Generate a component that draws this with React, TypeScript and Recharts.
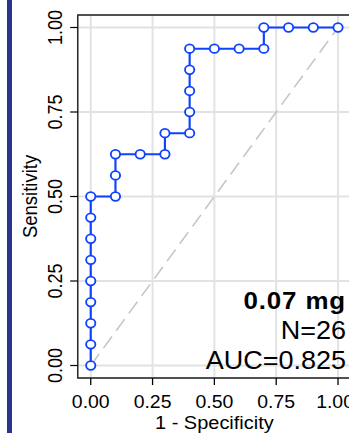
import React from 'react';
import {
  LineChart, Line, XAxis, YAxis, CartesianGrid, ReferenceLine, ReferenceArea, ReferenceDot
} from 'recharts';

// ROC curve points: false positive rate and true positive rate
const fpr = [0, 0, 0, 0, 0, 0, 0, 0, 0, 0.1, 0.1, 0.1, 0.2, 0.3, 0.3, 0.4, 0.4, 0.4, 0.4, 0.4, 0.5, 0.6, 0.7, 0.7, 0.8, 0.9, 1.0];
const tpr = [0, 0.0625, 0.125, 0.1875, 0.25, 0.3125, 0.375, 0.4375, 0.5, 0.5, 0.5625, 0.625, 0.625, 0.625, 0.6875, 0.6875, 0.75, 0.8125, 0.875, 0.9375, 0.9375, 0.9375, 0.9375, 1, 1, 1, 1];

const axisTicks = [0, 0.25, 0.5, 0.75, 1];
const xDomain: [number, number] = [-0.0525, 1.0525];
const yDomain: [number, number] = [-0.037, 1.037];

const doseLabel = '0.07 mg';
const sampleSize = 26;
const aucValue = 0.825;

const rows = fpr.map((x, i) => ({ fpr: x, tpr: tpr[i] }));

const FONT = '"Liberation Sans", Arial, Helvetica, sans-serif';
const ROC_BLUE = '#0f42ff';
// base graphics output is slightly wider than tall, so stretch horizontally
const SX = 1.08;

const YTick = (props: any) => {
  const { x, y, payload } = props;
  return (
    <text x={x} y={y} transform={`rotate(-90 ${x} ${y})`} textAnchor="middle"
      fontSize={18} fontFamily={FONT} fill="#000">
      {Number(payload.value).toFixed(2)}
    </text>
  );
};

const YTitle = (props: any) => {
  const vb = props.viewBox;
  const x = vb.x + 34.5;
  const y = vb.y + vb.height / 2;
  return (
    <text x={x} y={y} transform={`rotate(-90 ${x} ${y})`} textAnchor="middle"
      fontSize={18.5} fontFamily={FONT} fill="#000">
      Sensitivity
    </text>
  );
};

const XTitle = (props: any) => {
  const vb = props.viewBox;
  return (
    <text x={vb.x + vb.width / 2} y={vb.y + 51.3} textAnchor="middle"
      fontSize={18.5} fontFamily={FONT} fill="#000">
      1 - Specificity
    </text>
  );
};

const Annotation = (props: any) => {
  const { x, y } = props.viewBox;
  const tx = x + 7.4;
  return (
    <g textAnchor="end" fontFamily={FONT} fill="#000">
      <text x={tx} y={y - 56} fontSize={24} fontWeight="bold" letterSpacing={0.8}>{doseLabel}</text>
      <text x={tx} y={y - 26} fontSize={25}>{`N=${sampleSize}`}</text>
      <text x={tx} y={y + 3.5} fontSize={25}>{`AUC=${aucValue}`}</text>
    </g>
  );
};

export default function App() {
  return (
    <div style={{ position: 'absolute', left: 0, top: 0, width: 349, height: 433, overflow: 'hidden', background: '#fff' }}>
      <div style={{ position: 'absolute', left: 0, top: 0, transform: `scaleX(${SX})`, transformOrigin: '0 0' }}>
        <LineChart width={326} height={433} data={rows} margin={{ top: 15, right: 1, bottom: 0, left: 0 }}>
          <CartesianGrid stroke="#e2e2e2" strokeWidth={1.8} />
          <XAxis dataKey="fpr" type="number" domain={xDomain} ticks={axisTicks} allowDataOverflow
            height={55} axisLine={false} tickLine={{ stroke: '#000', strokeWidth: 1.2 }} tickSize={7} tickMargin={10}
            tick={{ fontSize: 18, fill: '#000', fontFamily: FONT }}
            tickFormatter={(v: number) => v.toFixed(2)}
            label={<XTitle />} />
          <YAxis type="number" domain={yDomain} ticks={axisTicks} allowDataOverflow
            width={72} axisLine={false} tickLine={{ stroke: '#000', strokeWidth: 1.2 }} tickSize={7} tickMargin={8}
            tick={<YTick />} label={<YTitle />} />
          <ReferenceLine segment={[{ x: 0, y: 0 }, { x: 1, y: 1 }]} stroke="#c6c6c6" strokeWidth={1.5} strokeDasharray="14 7" />
          <ReferenceArea x1={xDomain[0]} x2={xDomain[1]} y1={yDomain[0]} y2={yDomain[1]}
            fill="none" fillOpacity={0} stroke="#222" strokeWidth={1.3} />
          <Line dataKey="tpr" type="linear" stroke={ROC_BLUE} strokeWidth={2}
            dot={{ r: 4.3, fill: '#fff', stroke: ROC_BLUE, strokeWidth: 1.7 }}
            isAnimationActive={false} />
          <ReferenceDot x={1} y={0} r={0} fill="none" stroke="none" label={<Annotation />} />
        </LineChart>
      </div>
      <div style={{ position: 'absolute', left: 7, top: 0, width: 5, height: 433, background: '#27358f' }} />
    </div>
  );
}
